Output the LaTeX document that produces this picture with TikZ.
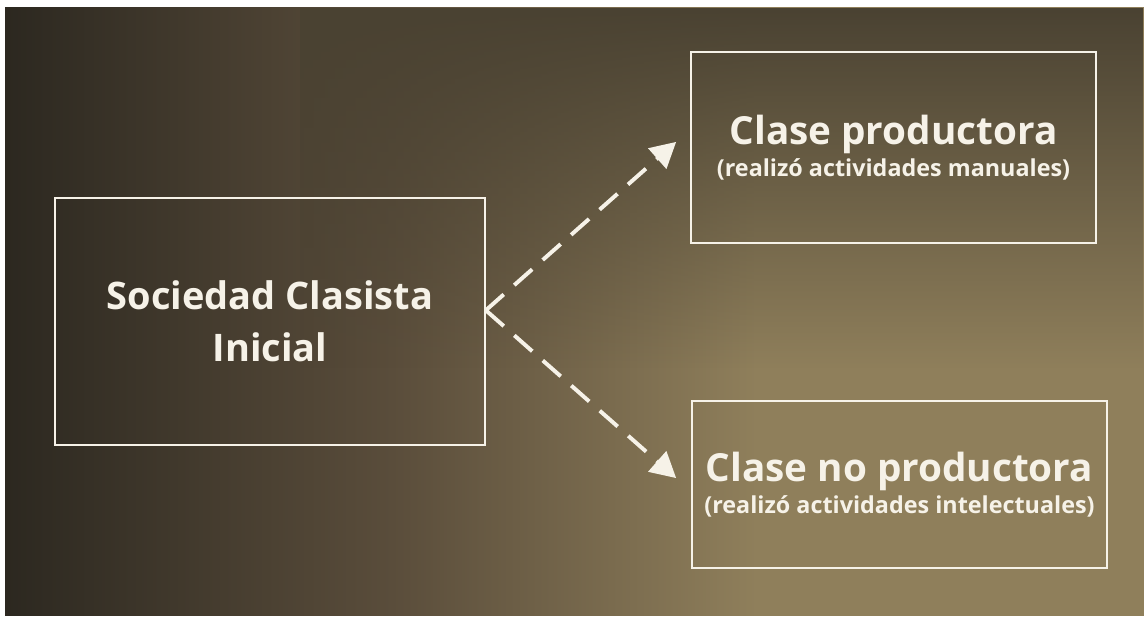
\documentclass[tikz,border=0pt]{standalone}
\usepackage{fontspec}
\setmainfont{Open Sans}
\usetikzlibrary{arrows.meta,fadings}
\definecolor{bgDark}{HTML}{2C2820}
\definecolor{bgMid}{HTML}{5A4D3B}
\definecolor{bgLight}{HTML}{8F7F5B}
\definecolor{bgTop}{HTML}{4A4232}
\definecolor{chalkWhite}{HTML}{F6F2E8}
\pgfdeclarehorizontalshading{bgshade}{100bp}{color(0bp)=(bgDark); color(25bp)=(bgDark); color(42bp)=(bgMid); color(58bp)=(bgLight); color(75bp)=(bgLight); color(100bp)=(bgLight)}
\tikzfading[name=fade top, top color=transparent!0, bottom color=transparent!100]
\tikzset{
  classbox/.style={rectangle, draw=chalkWhite, line width=1.1pt, text=chalkWhite, align=center, inner sep=0pt},
  bigfont/.style={font=\bfseries\fontsize{27}{37}\selectfont},
  subfont/.style={font=\bfseries\fontsize{16.6}{21.3}\selectfont},
  dasharrow/.style={-{Triangle[length=18pt,width=19pt]}, draw=chalkWhite, line width=2.8pt, dash pattern=on 17pt off 10pt},
}

\begin{document}
\begin{tikzpicture}[x=0.025cm,y=0.025cm]
  \useasboundingbox (0,0) rectangle (1144,618);
  % background
  \shade[shading=bgshade] (5,2) rectangle (1144,610);
  \fill[bgTop, path fading=fade top] (300,250) rectangle (1144,610);

  \node[classbox, bigfont, minimum width=10.75cm, minimum height=6.175cm] (soc) at (270,296.5) {Sociedad Clasista\\Inicial};
  \node[classbox, subfont, minimum width=10.125cm, minimum height=4.775cm] (prod) at (893.5,470.5) {{\fontsize{27.5}{30}\selectfont Clase productora}\\[1pt](realizó actividades manuales)};
  \node[classbox, subfont, minimum width=10.375cm, minimum height=4.175cm] (noprod) at (899.5,133.5) {{\fontsize{27.5}{30}\selectfont Clase no productora}\\[1pt](realizó actividades intelectuales)};

  \draw[dasharrow] ([yshift=0.28cm]soc.east) -- ([xshift=-0.35cm,yshift=0.14cm]prod.west);
  \draw[dasharrow] ([yshift=0.28cm]soc.east) -- ([xshift=-0.375cm,yshift=0.16cm]noprod.west);
\end{tikzpicture}
\end{document}
